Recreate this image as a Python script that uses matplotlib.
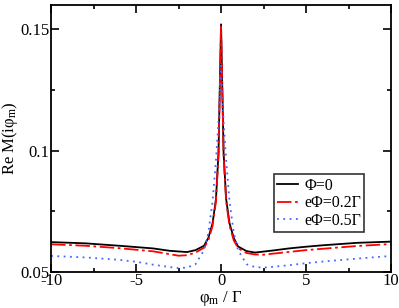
import numpy as np
import matplotlib
matplotlib.use("Agg")
import matplotlib.pyplot as plt
from matplotlib.ticker import MultipleLocator, FixedFormatter, FixedLocator

plt.rcParams['font.family'] = ['Liberation Serif', 'DejaVu Serif']
plt.rcParams['mathtext.fontset'] = 'custom'
plt.rcParams['mathtext.rm'] = 'Liberation Serif'
plt.rcParams['mathtext.it'] = 'Liberation Serif:italic'
plt.rcParams['axes.unicode_minus'] = False

# Phi = 0
x0 = [-10, -8, -6, -4, -3, -2, -1.5, -1, -0.75, -0.5, -0.3, -0.15, 0,
      0.15, 0.3, 0.5, 0.75, 1, 1.5, 2, 3, 4, 5, 6, 8, 10]
y0 = [0.0623, 0.0618, 0.0608, 0.0597, 0.0587, 0.0582, 0.0590, 0.0608, 0.0640, 0.0700, 0.0800, 0.0990, 0.152,
      0.0990, 0.0800, 0.0700, 0.0640, 0.0605, 0.0586, 0.0580, 0.0588, 0.0597, 0.0604, 0.0610, 0.0620, 0.0625]

# e Phi = 0.2 Gamma
x1 = [-10, -8, -6, -4, -3, -2.5, -2, -1.5, -1, -0.75, -0.5, -0.3, -0.15, 0,
      0.15, 0.3, 0.5, 0.75, 1, 1.5, 2, 2.5, 3, 5, 8, 10]
y1 = [0.0614, 0.0608, 0.0598, 0.0585, 0.0573, 0.0567, 0.0569, 0.0580, 0.0600, 0.0630, 0.0690, 0.0790, 0.0980, 0.151,
      0.0980, 0.0790, 0.0690, 0.0630, 0.0598, 0.0578, 0.0572, 0.0571, 0.0575, 0.0590, 0.0607, 0.0615]

# e Phi = 0.5 Gamma
x2 = [-10, -8, -6, -5, -4, -3, -2.5, -2, -1.5, -1, -0.75, -0.5, -0.3, -0.15, 0,
      0.15, 0.3, 0.5, 0.75, 1, 1.5, 2, 2.5, 3, 4, 5, 6, 8, 10]
y2 = [0.0566, 0.0560, 0.0550, 0.0542, 0.0530, 0.0520, 0.0516, 0.0518, 0.0532, 0.0590, 0.0660, 0.0790, 0.0960, 0.1120, 0.135,
      0.1120, 0.0960, 0.0790, 0.0660, 0.0590, 0.0532, 0.0520, 0.0518, 0.0521, 0.0528, 0.0536, 0.0543, 0.0555, 0.0566]

fig = plt.figure(figsize=(3.99, 3.08), dpi=100)
ax = fig.add_axes([0.128, 0.117, 0.852, 0.867])

ax.plot(x0, y0, color='black', lw=1.3, label='Φ=0')
ax.plot(x1, y1, color='red', lw=1.3, dashes=(8, 2, 1.5, 2), label='eΦ=0.2Γ')
ax.plot(x2, y2, color='#4466ff', lw=1.3, linestyle=(0, (1, 2.5)), label='eΦ=0.5Γ')

ax.set_xlim(-10, 10)
ax.set_ylim(0.05, 0.16)
ax.xaxis.set_major_locator(MultipleLocator(5))
ax.xaxis.set_minor_locator(MultipleLocator(2.5))
ax.yaxis.set_major_locator(FixedLocator([0.05, 0.1, 0.15]))
ax.yaxis.set_major_formatter(FixedFormatter(['0.05', '0.1', '0.15']))
ax.yaxis.set_minor_locator(FixedLocator([0.075, 0.125]))
ax.tick_params(which='both', direction='in', top=True, right=True, labelsize=12, width=1.2)
ax.tick_params(which='major', length=6)
ax.tick_params(which='minor', length=3)
ax.tick_params(axis='x', pad=1)
ax.tick_params(axis='y', pad=1)
for s in ax.spines.values():
    s.set_linewidth(1.3)

ax.set_xlabel(r'φ$_\mathrm{m}$ / Γ', fontsize=12, labelpad=0)
ax.set_ylabel(r'Re M(iφ$_\mathrm{m}$)', fontsize=12)
ax.yaxis.set_label_coords(-0.092, 0.5)

leg = ax.legend(loc='lower left', bbox_to_anchor=(0.655, 0.15), fontsize=11.5, frameon=True,
                fancybox=False, handlelength=1.3, handletextpad=0.4, borderpad=0.2,
                labelspacing=0.1, borderaxespad=0)
leg.get_frame().set_edgecolor('black')
leg.get_frame().set_linewidth(1.2)

fig.savefig('out.png', dpi=100)
